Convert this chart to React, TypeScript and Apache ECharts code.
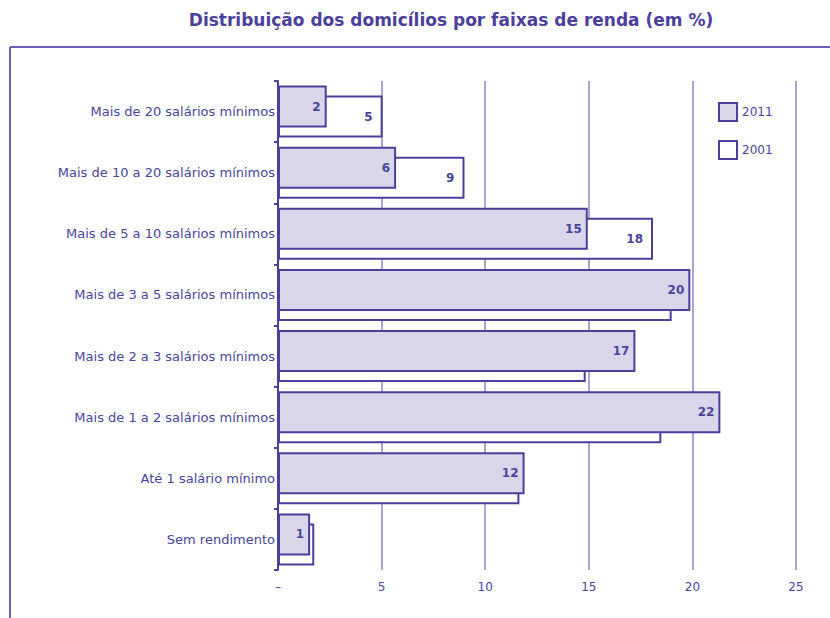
import React, { useEffect, useRef } from "react";
import * as echarts from "echarts";

const categories = [
  "Sem rendimento",
  "Até 1 salário mínimo",
  "Mais de 1 a 2 salários mínimos",
  "Mais de 2 a 3 salários mínimos",
  "Mais de 3 a 5 salários mínimos",
  "Mais de 5 a 10 salários mínimos",
  "Mais de 10 a 20 salários mínimos",
  "Mais de 20 salários mínimos",
];
const values2011 = [1.55, 11.9, 21.35, 17.25, 19.9, 14.95, 5.7, 2.35];
const values2001 = [1.75, 11.65, 18.5, 14.85, 19.0, 18.1, 9.0, 5.05];
const labels2011 = ["1", "12", "22", "17", "20", "15", "6", "2"];
const labels2001 = ["", "", "", "", "", "18", "9", "5"];
const seriesNames = ["2011", "2001"];

const DARK = "#4b3f9b";
const TEXT = "#4a4499";
const GRID = "#8c86c6";
const FILL = "#d9d6ea";

export default function App() {
  const ref = useRef<HTMLDivElement>(null);
  useEffect(() => {
    if (!ref.current) return;
    const chart = echarts.init(ref.current, null, { renderer: "svg" });
    chart.setOption({
      animation: false,
      backgroundColor: "#ffffff",
      title: {
        text: "Distribuição dos domicílios por faixas de renda (em %)",
        left: 446,
        textAlign: "center",
        top: 6,
        textStyle: {
          fontFamily: "DejaVu Sans",
          fontWeight: "bold",
          fontSize: 17,
          color: DARK,
        },
      },
      graphic: [
        {
          type: "line",
          shape: { x1: 10, y1: 47, x2: 830, y2: 47 },
          style: { stroke: "#6b60b8", lineWidth: 2 },
        },
        {
          type: "line",
          shape: { x1: 10, y1: 47, x2: 10, y2: 618 },
          style: { stroke: "#6b60b8", lineWidth: 2 },
        },
      ],
      legend: {
        orient: "vertical",
        left: 713,
        top: 97,
        itemWidth: 18,
        itemHeight: 18,
        itemGap: 18,
        icon: "rect",
        data: seriesNames,
        textStyle: { fontFamily: "DejaVu Sans", fontSize: 12, color: TEXT },
      },
      grid: { left: 278, right: 34, top: 81, bottom: 48 },
      xAxis: {
        type: "value",
        min: 0,
        max: 25,
        interval: 5,
        axisLine: { show: false },
        axisTick: { show: false },
        splitLine: { show: true, lineStyle: { color: GRID, width: 1.5 } },
        axisLabel: {
          margin: 11,
          color: TEXT,
          fontFamily: "DejaVu Sans",
          fontSize: 12,
          formatter: (v: number) => (v === 0 ? "–" : String(v)),
        },
      },
      yAxis: {
        type: "category",
        data: categories,
        axisLine: { show: true, lineStyle: { color: DARK, width: 2 } },
        axisTick: { show: true, length: 4, lineStyle: { color: DARK, width: 2 } },
        axisLabel: {
          margin: 3,
          color: TEXT,
          fontFamily: "DejaVu Sans",
          fontSize: 13,
        },
      },
      series: [
        {
          name: seriesNames[0],
          type: "bar",
          z: 4,
          data: values2011,
          barWidth: 42,
          barGap: "-76%",
          itemStyle: { color: FILL, borderColor: DARK, borderWidth: 2 },
          label: {
            show: true,
            position: "insideRight",
            distance: 6,
            color: TEXT,
            fontWeight: "bold",
            fontFamily: "DejaVu Sans",
            fontSize: 12,
            formatter: (p: any) => labels2011[p.dataIndex],
          },
        },
        {
          name: seriesNames[1],
          type: "bar",
          z: 2,
          data: values2001,
          barWidth: 42,
          barGap: "-76%",
          itemStyle: { color: "#ffffff", borderColor: DARK, borderWidth: 2 },
          label: {
            show: true,
            position: "insideRight",
            distance: 10,
            color: TEXT,
            fontWeight: "bold",
            fontFamily: "DejaVu Sans",
            fontSize: 12,
            formatter: (p: any) => labels2001[p.dataIndex],
          },
        },
      ],
    });
    return () => chart.dispose();
  }, []);
  return (
    <div
      ref={ref}
      style={{ position: "absolute", left: 0, top: 0, width: 830, height: 618 }}
    />
  );
}
